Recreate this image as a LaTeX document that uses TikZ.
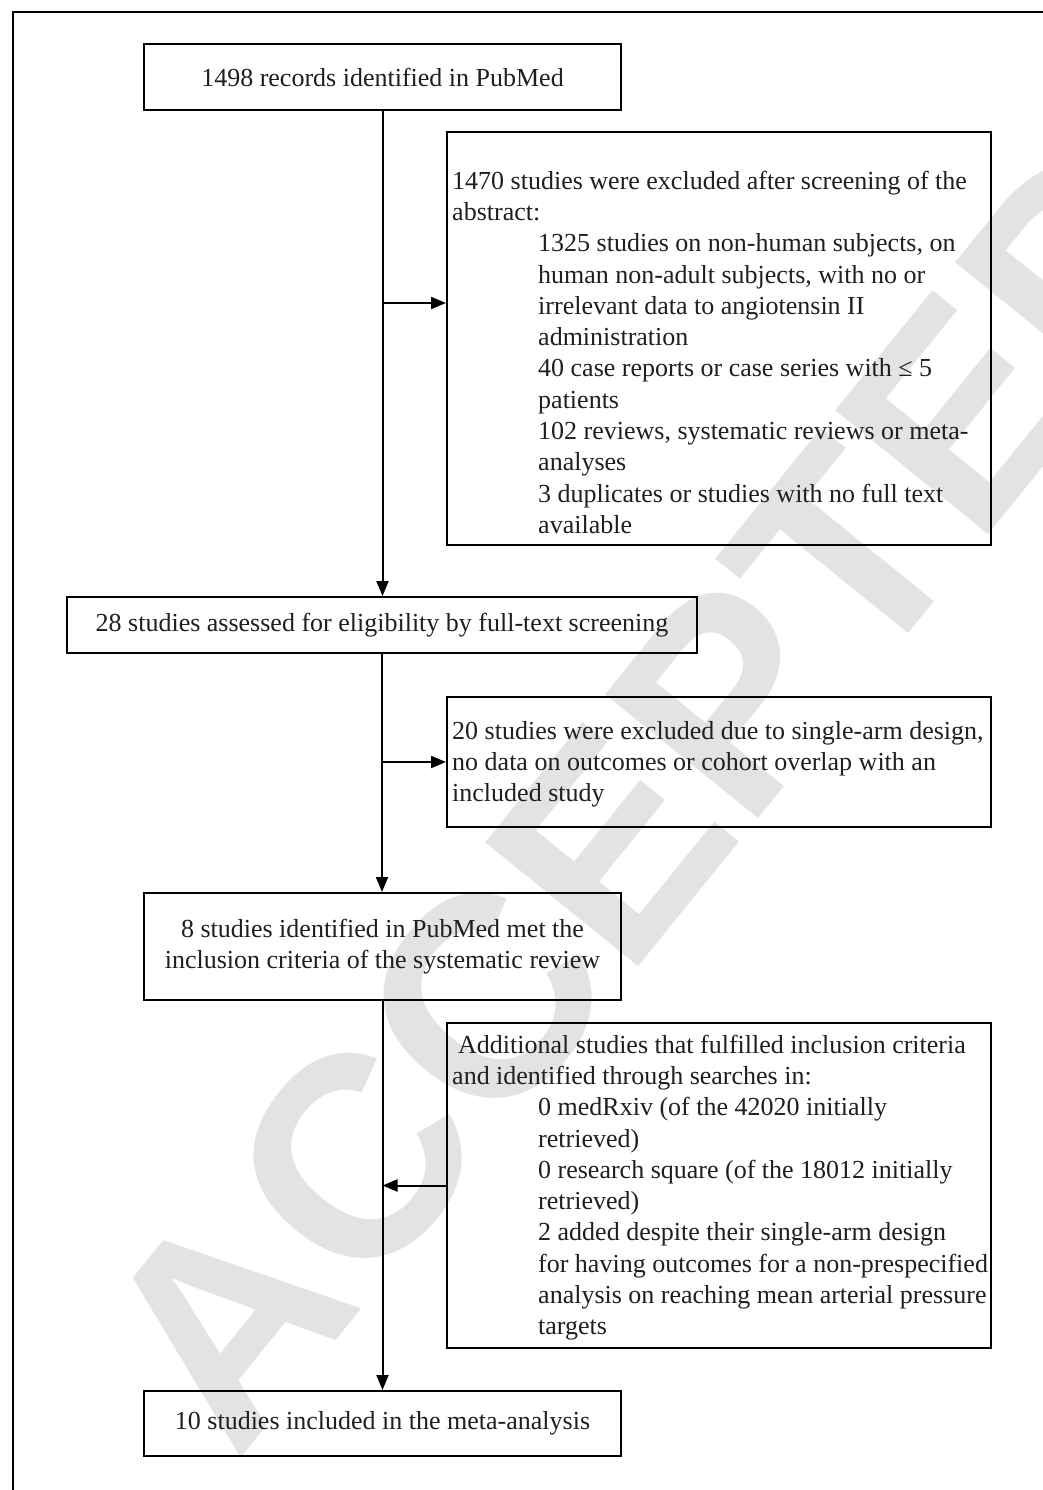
\documentclass[tikz,border=0pt]{standalone}
\usepackage{fontspec}
\setmainfont{Liberation Serif}
\newfontfamily\wmfont{Liberation Sans}
\usetikzlibrary{arrows.meta}
\begin{document}
\begin{tikzpicture}[x=1pt,y=-1pt,
  box/.style={draw, line width=2pt, inner sep=0pt, font=\fontsize{26}{31.3}\selectfont, text=black!88},
  txt/.style={inner sep=0pt, align=left, anchor=north west, font=\fontsize{26}{31.3}\selectfont, text=black!88},
  ln/.style={line width=2pt},
  arr/.style={line width=2pt, -{Triangle[length=15pt,width=12pt]}},
  wm/.style={text=black!11, font=\wmfont\bfseries\fontsize{286}{300}\selectfont, inner sep=0pt}]
\useasboundingbox (0,0) rectangle (1043,1490);
\fill[white] (0,0) rectangle (1043,1490);
% watermark
\begin{scope}
\clip (0,0) rectangle (1043,1490);
\node[wm, rotate=51] (wmark) at (655,790) {ACCEPTED};
\end{scope}
% outer frame
\coordinate (fa) at (13,1490);
\coordinate (fb) at (13,12);
\coordinate (fc) at (1043,12);
\draw[ln] (fa) -- (fb) -- (fc);
% boxes
\node[box, minimum width=477pt, minimum height=66pt] (b1) at (382.5,77) {1498 records identified in PubMed};
\node[box, minimum width=544pt, minimum height=413pt] (ex1) at (719,338.5) {};
\node[txt] (ex1t) at (452,167) {\strut 1470 studies were excluded after screening of the\\
abstract:\\
\hspace*{86pt}1325 studies on non-human subjects, on\\
\hspace*{86pt}human non-adult subjects, with no or\\
\hspace*{86pt}irrelevant data to angiotensin II\\
\hspace*{86pt}administration\\
\hspace*{86pt}40 case reports or case series with ≤ 5\\
\hspace*{86pt}patients\\
\hspace*{86pt}102 reviews, systematic reviews or meta-\\
\hspace*{86pt}analyses\\
\hspace*{86pt}3 duplicates or studies with no full text\\
\hspace*{86pt}available};
\node[box, minimum width=630pt, minimum height=56pt] (b3) at (382,625) {28 studies assessed for eligibility by full-text screening};
\node[box, minimum width=544pt, minimum height=130pt] (ex2) at (719,762) {};
\node[txt] (ex2t) at (452,717) {\strut 20 studies were excluded due to single-arm design,\\
no data on outcomes or cohort overlap with an\\
included study};
\node[box, minimum width=477pt, minimum height=107pt, align=center] (b4) at (382.5,946.5) {8 studies identified in PubMed met the\\inclusion criteria of the systematic review};
\node[box, minimum width=544pt, minimum height=325pt] (ad) at (719,1185.5) {};
\node[txt] (adt) at (452,1031) {\strut\hspace*{6pt}Additional studies that fulfilled inclusion criteria\\
and identified through searches in:\\
\hspace*{86pt}0 medRxiv (of the 42020 initially\\
\hspace*{86pt}retrieved)\\
\hspace*{86pt}0 research square (of the 18012 initially\\
\hspace*{86pt}retrieved)\\
\hspace*{86pt}2 added despite their single-arm design\\
\hspace*{86pt}for having outcomes for a non-prespecified\\
\hspace*{86pt}analysis on reaching mean arterial pressure\\
\hspace*{86pt}targets};
\node[box, minimum width=477pt, minimum height=65pt] (b6) at (382.5,1423.5) {10 studies included in the meta-analysis};
% connectors
\coordinate (j1) at (383,303);
\draw[arr] (b1.south) -- (b1.south |- b3.north);
\draw[arr] (j1) -- (j1 -| ex1.west);
\draw[arr] (b3.south) -- (b3.south |- b4.north);
\draw[arr] (b3.south |- ex2.west) -- (ex2.west);
\draw[arr] (b4.south) -- (b4.south |- b6.north);
\draw[arr] (ad.west) -- (ad.west -| b4.south);
\end{tikzpicture}
\end{document}
